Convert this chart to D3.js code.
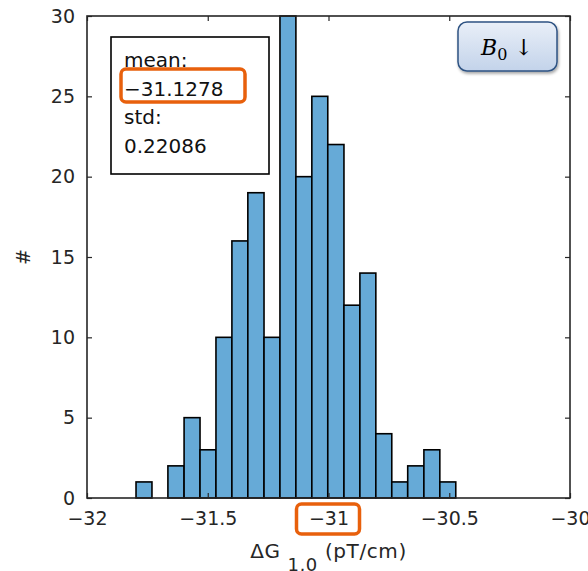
<!DOCTYPE html>
<html>
<head>
<meta charset="utf-8">
<script src="https://cdnjs.cloudflare.com/ajax/libs/d3/7.8.5/d3.min.js"></script>
<style>
  body { margin: 0; background: #fff; }
  svg { display: block; }
  text { font-family: "DejaVu Sans", sans-serif; fill: #262626; }
</style>
</head>
<body>
<script>
// histogram bin edges (pT/cm) and counts per bin
var binEdges = [-31.797, -31.731, -31.665, -31.598, -31.532, -31.466, -31.400, -31.334,
  -31.267, -31.201, -31.135, -31.069, -31.003, -30.936, -30.870, -30.804, -30.738,
  -30.672, -30.605, -30.539, -30.473];
var counts = [1, 0, 2, 5, 3, 10, 16, 19, 10, 30, 20, 25, 22, 12, 14, 4, 1, 2, 3, 1];
var xTicks = [-32, -31.5, -31, -30.5, -30];
var yTicks = [0, 5, 10, 15, 20, 25, 30];
var statLines = ['mean:', '\u221231.1278', 'std:', '0.22086'];

var W = 588, H = 571;
var margin = { top: 16, right: 18, bottom: 73, left: 87 };
var width = W - margin.left - margin.right;
var height = H - margin.top - margin.bottom;

var svg = d3.select('body').append('svg')
  .attr('width', W)
  .attr('height', H);

var defs = svg.append('defs');
var grad = defs.append('linearGradient')
  .attr('id', 'btn').attr('x1', 0).attr('y1', 0).attr('x2', 0).attr('y2', 1);
grad.append('stop').attr('offset', '0%').attr('stop-color', '#e9eff8');
grad.append('stop').attr('offset', '100%').attr('stop-color', '#c3d3ea');
var shadow = defs.append('filter').attr('id', 'shadow')
  .attr('x', '-20%').attr('y', '-20%').attr('width', '140%').attr('height', '150%');
shadow.append('feDropShadow').attr('dx', 1).attr('dy', 2).attr('stdDeviation', 1.5)
  .attr('flood-color', '#000').attr('flood-opacity', 0.35);

var g = svg.append('g')
  .attr('transform', `translate(${margin.left}, ${margin.top})`);

var xScale = d3.scaleLinear().domain([-32, -30]).range([0, width]);
var yScale = d3.scaleLinear().domain([0, 30]).range([height, 0]);

var fmt = d => String(d).replace('-', '\u2212');

// bars
var bins = counts.map((c, i) => ({ x0: binEdges[i], x1: binEdges[i + 1], n: c }));
g.selectAll('.bar')
  .data(bins)
  .enter()
  .append('rect')
  .attr('class', 'bar')
  .attr('x', d => xScale(d.x0))
  .attr('width', d => xScale(d.x1) - xScale(d.x0))
  .attr('y', d => yScale(d.n))
  .attr('height', d => yScale(0) - yScale(d.n))
  .style('fill', '#66aad7')
  .style('stroke', '#000')
  .style('stroke-width', 1.6);

// axes, ticks inside, box
function styleAxis(sel, showText) {
  sel.select('.domain').remove();
  sel.selectAll('.tick line').style('stroke', '#262626').style('stroke-width', 1.2);
  sel.selectAll('.tick text').style('font-size', '19px');
  if (!showText) sel.selectAll('.tick text').remove();
}

g.append('g')
  .attr('transform', `translate(0, ${height})`)
  .call(d3.axisBottom(xScale).tickValues(xTicks).tickFormat(fmt).tickSize(-5).tickPadding(14))
  .call(s => styleAxis(s, true));

g.append('g')
  .call(d3.axisTop(xScale).tickValues(xTicks).tickSize(-5))
  .call(s => styleAxis(s, false));

g.append('g')
  .call(d3.axisLeft(yScale).tickValues(yTicks).tickSize(-5).tickPadding(12))
  .call(s => styleAxis(s, true));

g.append('g')
  .attr('transform', `translate(${width}, 0)`)
  .call(d3.axisRight(yScale).tickValues(yTicks).tickSize(-5))
  .call(s => styleAxis(s, false));

g.append('rect')
  .attr('width', width)
  .attr('height', height)
  .style('fill', 'none')
  .style('stroke', '#262626')
  .style('stroke-width', 1.6);

// axis labels
var xl = g.append('text')
  .attr('text-anchor', 'middle')
  .attr('x', xScale(-31))
  .attr('y', height + 60)
  .style('font-size', '20px')
  .style('letter-spacing', '0.6px');
xl.append('tspan').text('\u0394G ');
xl.append('tspan').attr('dy', 13).style('font-size', '18px').text('1,0');
xl.append('tspan').attr('dy', -13).text(' (pT/cm)');

g.append('text')
  .text('#')
  .attr('text-anchor', 'middle')
  .attr('transform', `translate(${-57}, ${yScale(15)}) rotate(-90)`)
  .style('font-size', '19px');

// stats box
var stats = g.append('g').attr('transform', `translate(${111 - margin.left}, ${37 - margin.top})`);
stats.append('rect')
  .attr('width', 158)
  .attr('height', 137)
  .style('fill', '#fff')
  .style('stroke', '#000')
  .style('stroke-width', 1.6);
stats.selectAll('text')
  .data(statLines)
  .enter()
  .append('text')
  .text(d => d)
  .attr('x', 13)
  .attr('y', (d, i) => 30 + i * 28.5)
  .style('font-size', '20px')
  .style('fill', '#111');

// orange highlight boxes
stats.append('rect')
  .attr('x', 10).attr('y', 32)
  .attr('width', 124).attr('height', 33)
  .attr('rx', 5)
  .style('fill', 'none')
  .style('stroke', '#e8600c')
  .style('stroke-width', 3.5);

g.append('rect')
  .attr('x', xScale(-31) - 32).attr('y', height + 6)
  .attr('width', 63).attr('height', 30)
  .attr('rx', 5)
  .style('fill', 'none')
  .style('stroke', '#e8600c')
  .style('stroke-width', 3.5);

// B0 button
var btn = svg.append('g').attr('transform', 'translate(458, 22)');
btn.append('rect')
  .attr('width', 99).attr('height', 49)
  .attr('rx', 9)
  .style('fill', 'url(#btn)')
  .style('stroke', '#2f5383')
  .style('stroke-width', 1.5)
  .style('filter', 'url(#shadow)');
var bt = btn.append('text')
  .attr('x', 49).attr('y', 33)
  .attr('text-anchor', 'middle')
  .style('font-family', '"DejaVu Serif", "Liberation Serif", serif')
  .style('font-size', '22px')
  .style('fill', '#000');
bt.append('tspan').style('font-style', 'italic').text('B');
bt.append('tspan').attr('dy', 5).style('font-size', '16px').text('0');
bt.append('tspan').attr('dy', -5).text(' \u2193');
</script>
</body>
</html>
